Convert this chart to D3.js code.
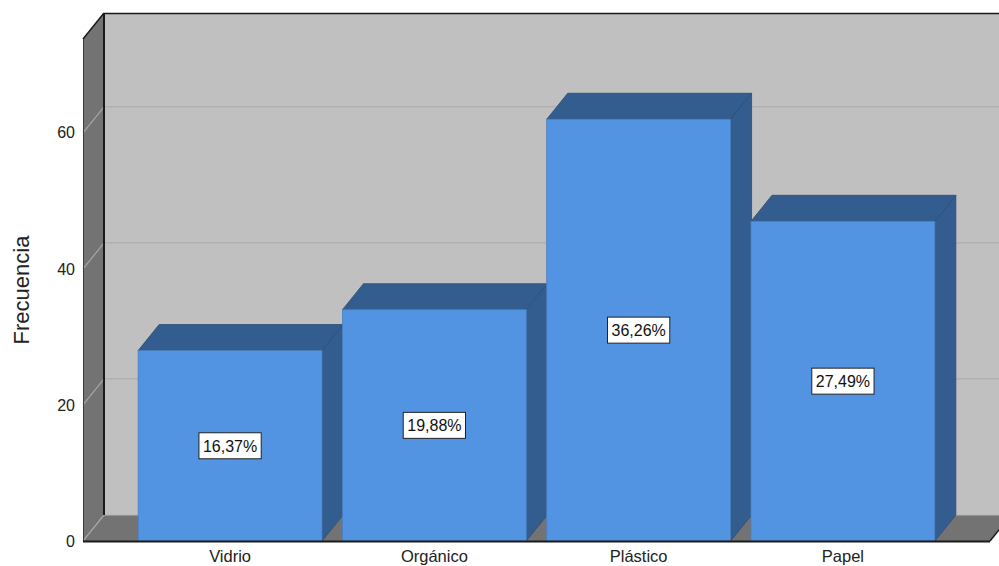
<!DOCTYPE html>
<html>
<head>
<meta charset="utf-8">
<script src="https://cdn.jsdelivr.net/npm/d3@7"></script>
<style>
  html, body { margin: 0; padding: 0; background: #ffffff; }
  svg { display: block; font-family: "Liberation Sans", Arial, sans-serif; }
</style>
</head>
<body>
<svg id="chart" width="999" height="566"></svg>
<script>
// Waste type frequencies (n = 171)
const categories = ["Vidrio", "Orgánico", "Plástico", "Papel"];
const counts = [28, 34, 62, 47];
const yTicks = [0, 20, 40, 60];
const yMax = 73.8;
const yTitle = "Frecuencia";

(function () {
const svg = d3.select("#chart");
const W = 999;

// Front plane of the 3D box and the depth offset of the back plane
const pLeft = 83, pRight = 990, pBottom = 541, pTop = 39;
const dx = 21, dy = -26;

const y = d3.scaleLinear().domain([0, yMax]).range([pBottom, pTop]);
const x = d3.scaleBand().domain(categories).range([pLeft, pRight])
  .paddingInner(0.1).paddingOuter(0.27);

const total = d3.sum(counts);
const pct = v => (v / total * 100).toFixed(2).replace(".", ",") + "%";

const g = svg.append("g");

// Back wall
g.append("rect")
  .attr("x", pLeft + dx).attr("y", pTop + dy)
  .attr("width", W + 40).attr("height", pBottom - pTop)
  .attr("fill", "#c0c0c0");

// Left wall
g.append("polygon")
  .attr("points", [[pLeft, pTop], [pLeft + dx, pTop + dy], [pLeft + dx, pBottom + dy], [pLeft, pBottom]].join(" "))
  .attr("fill", "#737373");

// Floor
g.append("polygon")
  .attr("points", [[pLeft, pBottom], [pLeft + dx, pBottom + dy], [pRight + dx, pBottom + dy], [pRight, pBottom]].join(" "))
  .attr("fill", "#737373");

// Gridlines on back wall and on the left wall
yTicks.forEach(t => {
  if (t > 0) {
    g.append("line")
      .attr("x1", pLeft + dx).attr("x2", W + 40)
      .attr("y1", y(t) + dy).attr("y2", y(t) + dy)
      .attr("stroke", "#adadad").attr("stroke-width", 1.2);
  } else {
    g.append("line")
      .attr("x1", pLeft + dx).attr("x2", pRight + dx)
      .attr("y1", y(t) + dy).attr("y2", y(t) + dy)
      .attr("stroke", "#b5b5b5").attr("stroke-width", 1);
  }
  g.append("line")
    .attr("x1", pLeft).attr("y1", y(t))
    .attr("x2", pLeft + dx).attr("y2", y(t) + dy)
    .attr("stroke", "#a6a6a6").attr("stroke-width", 1.2);
});

// Dark edges of the box
const edge = "#1a1a1a";
g.append("line").attr("x1", pLeft + dx).attr("x2", pLeft + dx)
  .attr("y1", pTop + dy).attr("y2", pBottom + dy)
  .attr("stroke", edge).attr("stroke-width", 2);
g.append("line").attr("x1", pLeft + dx).attr("x2", W + 40)
  .attr("y1", pTop + dy + 0.5).attr("y2", pTop + dy + 0.5)
  .attr("stroke", edge).attr("stroke-width", 1.5);
g.append("line").attr("x1", pLeft).attr("y1", pTop)
  .attr("x2", pLeft + dx).attr("y2", pTop + dy)
  .attr("stroke", edge).attr("stroke-width", 1.5);
g.append("line").attr("x1", pLeft + 0.5).attr("x2", pLeft + 0.5)
  .attr("y1", pTop).attr("y2", pBottom)
  .attr("stroke", "#3a3a3a").attr("stroke-width", 1);

// Bars: top face, right side face and front face
const front = "#5294e2", shade = "#335d8f", outline = "#2c4c75";
const bars = g.selectAll(".bar").data(categories.map((c, i) => ({ c, v: counts[i] })))
  .join("g").attr("class", "bar");

bars.append("polygon")
  .attr("points", d => {
    const x0 = x(d.c), x1 = x0 + x.bandwidth(), yv = y(d.v);
    return [[x0, yv], [x0 + dx, yv + dy], [x1 + dx, yv + dy], [x1, yv]].join(" ");
  })
  .attr("fill", shade).attr("stroke", outline).attr("stroke-width", 0.8);

bars.append("polygon")
  .attr("points", d => {
    const x1 = x(d.c) + x.bandwidth(), yv = y(d.v);
    return [[x1, yv], [x1 + dx, yv + dy], [x1 + dx, pBottom + dy], [x1, pBottom]].join(" ");
  })
  .attr("fill", shade).attr("stroke", outline).attr("stroke-width", 0.8);

bars.append("rect")
  .attr("x", d => x(d.c)).attr("y", d => y(d.v))
  .attr("width", x.bandwidth()).attr("height", d => pBottom - y(d.v))
  .attr("fill", front).attr("stroke", "#4a7fbf").attr("stroke-width", 0.8);

// Floor front edge and right edge
g.append("line").attr("x1", pLeft).attr("x2", pRight)
  .attr("y1", pBottom + 0.5).attr("y2", pBottom + 0.5)
  .attr("stroke", edge).attr("stroke-width", 2);
g.append("line").attr("x1", pRight).attr("y1", pBottom)
  .attr("x2", pRight + dx).attr("y2", pBottom + dy)
  .attr("stroke", edge).attr("stroke-width", 1.5);

// Percentage labels
const labels = bars.append("g")
  .attr("transform", d => `translate(${x(d.c) + x.bandwidth() / 2},${y(d.v / 2)})`);
labels.append("text")
  .attr("text-anchor", "middle").attr("dy", "0.36em")
  .attr("font-size", 16).attr("fill", "#111")
  .text(d => pct(d.v));
labels.each(function () {
  const t = d3.select(this).select("text");
  const b = t.node().getBBox();
  d3.select(this).insert("rect", "text")
    .attr("x", b.x - 4).attr("y", -13)
    .attr("width", b.width + 8).attr("height", 26)
    .attr("fill", "#ffffff").attr("stroke", "#222").attr("stroke-width", 1);
});

// Y axis
const yAxis = svg.append("g").attr("transform", `translate(${pLeft},0)`)
  .call(d3.axisLeft(y).tickValues(yTicks).tickSize(0).tickPadding(8).tickFormat(d3.format("d")));
yAxis.select(".domain").remove();
yAxis.selectAll("text").attr("font-size", 16).attr("fill", "#222")
  .attr("font-family", "'Liberation Sans', Arial, sans-serif");

// X axis
const xAxis = svg.append("g").attr("transform", `translate(0,${pBottom})`)
  .call(d3.axisBottom(x).tickSize(0).tickPadding(9));
xAxis.select(".domain").remove();
xAxis.selectAll("text").attr("font-size", 16.5).attr("fill", "#222")
  .attr("font-family", "'Liberation Sans', Arial, sans-serif");

// Y axis title
svg.append("text")
  .attr("transform", "translate(29,290) rotate(-90)")
  .attr("text-anchor", "middle")
  .attr("font-size", 22).attr("fill", "#222")
  .text(yTitle);
})();
</script>
</body>
</html>
